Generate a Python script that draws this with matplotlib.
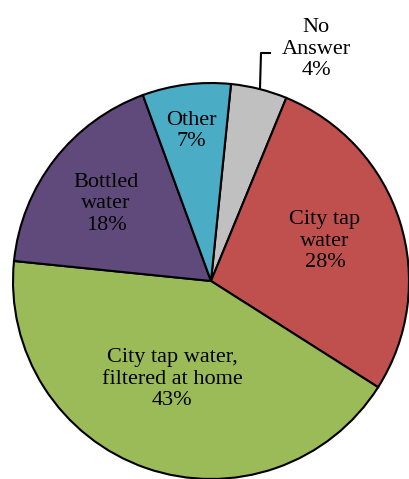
import os
import matplotlib.pyplot as plt
from matplotlib import font_manager

W, H = 409, 479

labels = ["No\nAnswer\n4%", "City tap\nwater\n28%", "City tap water,\nfiltered at home\n43%",
          "Bottled\nwater\n18%", "Other\n7%"]
# shares (labels show rounded values)
values = [4.6, 27.8, 42.6, 17.8, 7.2]
colors = ["#C0C0C0", "#C0504D", "#9BBB59", "#604A7B", "#4BACC6"]
# label centres in pixels (x, y from top)
label_px = [(316, 49), (325, 241), (172, 379), (106, 204), (191, 131)]

cx, cy, r = 211, 281, 198

font_path = "/usr/share/fonts/truetype/liberation/LiberationSerif-Regular.ttf"
if os.path.exists(font_path):
    fp = font_manager.FontProperties(fname=font_path, size=16)
else:
    fp = font_manager.FontProperties(family=["Liberation Serif", "DejaVu Serif"], size=16)

fig = plt.figure(figsize=(W / 100, H / 100), dpi=100)
ax = fig.add_axes([(cx - r) / W, (H - cy - r) / H, 2 * r / W, 2 * r / H])
ax.pie(values, colors=colors, startangle=84.2, counterclock=False, radius=1,
       wedgeprops=dict(edgecolor="black", linewidth=1.5))
ax.set_xlim(-1, 1)
ax.set_ylim(-1, 1)
ax.set_aspect("auto")
ax.axis("off")

for lab, (px, py) in zip(labels, label_px):
    ax.text((px - cx) / r, (cy - py) / r, lab, ha="center", va="center",
            fontproperties=fp, linespacing=1.2, clip_on=False)

# leader line for the small slice
ax.plot([(260 - cx) / r, (261 - cx) / r, (270 - cx) / r],
        [(cy - 88) / r, (cy - 53) / r, (cy - 53) / r],
        color="black", linewidth=1.5, clip_on=False)

fig.savefig("out.png", dpi=100)
